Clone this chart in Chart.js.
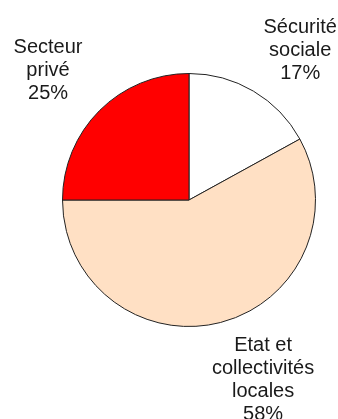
<!DOCTYPE html>
<html>
<head>
<meta charset="utf-8">
<script src="https://cdn.jsdelivr.net/npm/chart.js@4/dist/chart.umd.min.js"></script>
<style>
    html, body { margin: 0; padding: 0; background: #fff; }
    #wrap { width: 338px; height: 419px; position: relative; }
</style>
</head>
<body>
<div id="wrap"><canvas id="chartPie"></canvas></div>
<script>
// Répartition de la dépense par financeur
const categories = [['Sécurité', 'sociale'], ['Etat et', 'collectivités', 'locales'], ['Secteur', 'privé']];
const parts = [17, 58, 25];
const sliceColors = ['#FFFFFF', '#FFE0C4', '#FF0000'];

// petit décalage des étiquettes (px) pour les caler comme dans Excel
const labelNudge = [[3, 0], [-13, 2], [-4, 0]];

// Étiquettes posées à l'extérieur de chaque secteur, calées sur l'angle médian
const outsideLabels = {
    id: 'outsideLabels',
    afterDatasetsDraw(chart) {
        const ctx = chart.ctx;
        const meta = chart.getDatasetMeta(0);
        const lineH = 23;
        ctx.save();
        ctx.font = '20px "Liberation Sans", Arial, sans-serif';
        ctx.fillStyle = '#1a1a1a';
        ctx.textBaseline = 'middle';
        ctx.textAlign = 'center';
        meta.data.forEach((arc, i) => {
            const p = arc.getProps(['x', 'y', 'startAngle', 'endAngle', 'outerRadius'], true);
            const mid = (p.startAngle + p.endAngle) / 2;
            const r = p.outerRadius + 10;
            const ax = p.x + Math.cos(mid) * r;
            const ay = p.y + Math.sin(mid) * r;
            const lines = categories[i].concat([parts[i] + '%']);
            const boxW = Math.max(...lines.map(l => ctx.measureText(l).width));
            const boxH = lines.length * lineH;
            const left = (ax >= p.x ? ax + 2 : ax - boxW - 6) + labelNudge[i][0];
            const top = (ay <= p.y ? ay - boxH + 2 : ay) + labelNudge[i][1];
            const cx = left + boxW / 2;
            lines.forEach((l, k) => ctx.fillText(l, cx, top + lineH * k + lineH / 2));
        });
        ctx.restore();
    }
};

new Chart(document.getElementById('chartPie'), {
    type: 'pie',
    data: {
        labels: categories.map(c => c.join(' ')),
        datasets: [{
            data: parts,
            backgroundColor: sliceColors,
            borderColor: '#222',
            borderWidth: 1
        }]
    },
    options: {
        responsive: true,
        maintainAspectRatio: false,
        animation: false,
        layout: { padding: { left: 62, right: 22, top: 73, bottom: 92 } },
        plugins: {
            legend: { display: false },
            tooltip: { enabled: false }
        }
    },
    plugins: [outsideLabels]
});
</script>
</body>
</html>
